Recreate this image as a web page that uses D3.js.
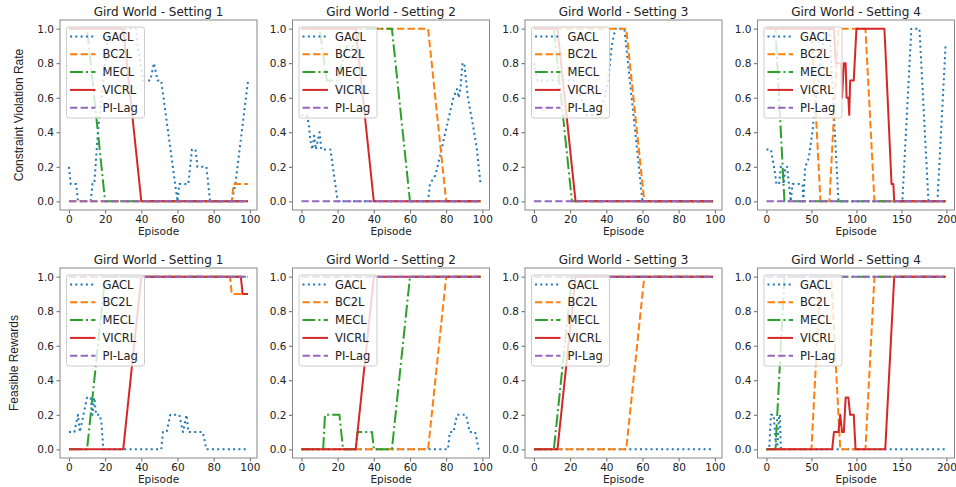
<!DOCTYPE html>
<html>
<head>
<meta charset="utf-8">
<script src="https://cdnjs.cloudflare.com/ajax/libs/d3/7.8.5/d3.min.js"></script>
<style>
body { margin: 0; background: #fff; }
text { font-family: "DejaVu Sans", sans-serif; fill: #222; }
</style>
</head>
<body>
<svg width="956" height="487"></svg>
<script>
// Names and tick labels
var methods = ["GACL", "BC2L", "MECL", "VICRL", "PI-Lag"];
var titles = ["Gird World - Setting 1", "Gird World - Setting 2", "Gird World - Setting 3", "Gird World - Setting 4"];
var rowLabels = ["Constraint Violation Rate", "Feasible Rewards"];
var xTicks100 = [0, 20, 40, 60, 80, 100];
var xTicks200 = [0, 50, 100, 150, 200];
var yTicks = [0, 0.2, 0.4, 0.6, 0.8, 1.0];

// Constraint violation rate -- [episode, value] break points
var cvr1Gacl = [[0,0.2],[1,0.1],[4,0.1],[5,0],[12,0],[13,0.1],[14,0.1],[16,0.4],[18,0.6],[20,0.8],[22,1],[37,1],[38,0.9],[41,0.7],[45,0.7],[47,0.8],[49,0.7],[51,0.7],[60,0],[61,0.1],[66,0.1],[68,0.3],[70,0.3],[71,0.2],[76,0.2],[78,0],[90,0],[92,0.1],[99,0.7]];
var cvr1Bc2l = [[0,0],[90,0],[91,0.1],[99,0.1]];
var cvr1Mecl = [[0,1],[10,1],[20,0],[99,0]];
var cvr1Vicrl = [[0,1],[30,1],[40,0],[99,0]];
var cvr1Pilag = [[0,0],[99,0]];

var cvr2Gacl = [[0,0.5],[3,0.5],[4,0.45],[5,0.35],[6,0.3],[7,0.38],[8,0.3],[9,0.35],[10,0.4],[11,0.3],[16,0.3],[20,0],[70,0],[71,0.1],[74,0.15],[77,0.28],[80,0.42],[84,0.6],[86,0.65],[87,0.6],[88,0.67],[89,0.8],[90,0.8],[92,0.6],[95,0.43],[97,0.3],[99,0.1]];
var cvr2Bc2l = [[0,1],[70,1],[80,0],[99,0]];
var cvr2Mecl = [[0,1],[10,1],[14,0.7],[20,0.7],[25,0.9],[30,0.9],[33,1],[50,1],[60,0],[99,0]];
var cvr2Vicrl = [[0,1],[30,1],[40,0],[99,0]];
var cvr2Pilag = [[0,0],[99,0]];

var cvr3Gacl = [[0,0.8],[2,0.7],[22,0.7],[26,0.6],[29,0.5],[36,0.5],[39,0.6],[41,0.7],[43,0.9],[45,1],[50,1],[60,0],[99,0]];
var cvr3Bc2l = [[0,1],[51,1],[61,0],[99,0]];
var cvr3Mecl = [[0,1],[11,1],[21,0],[99,0]];
var cvr3Vicrl = [[0,1],[13,1],[23,0],[99,0]];
var cvr3Pilag = [[0,0],[99,0]];

var cvr4Gacl = [[0,0.3],[5,0.3],[7,0.24],[9,0.18],[11,0.1],[14,0.1],[16,0.2],[18,0.18],[19,0.1],[21,0.2],[23,0.2],[25,0.1],[27,0],[29,0.1],[40,0.1],[41,0],[43,0.2],[47,0.25],[51,0.4],[55,0.6],[60,0.8],[65,1],[70,1],[80,0],[151,0],[161,1],[170,1],[180,0],[190,0],[199,0.9]];
var cvr4Bc2l = [[0,1],[50,1],[60,0],[70,0],[80,1],[110,1],[120,0],[199,0]];
var cvr4Mecl = [[0,1],[10,1],[20,0],[199,0]];
var cvr4Vicrl = [[0,1],[75,1],[77,0.8],[83,0.8],[84,0.6],[86,0.8],[88,0.8],[89,0.6],[91,0.6],[92,0.5],[93,0.7],[97,0.7],[99,0.9],[100,1],[131,1],[132,0.9],[139,0.1],[141,0.1],[142,0],[199,0]];
var cvr4Pilag = [[0,0],[199,0]];

// Feasible rewards
var fr1Gacl = [[0,0.1],[3,0.1],[5,0.2],[6,0.1],[7,0.15],[8,0.2],[10,0.3],[12,0.3],[13,0.2],[14,0.3],[15,0.2],[17,0.2],[18,0.15],[19,0],[51,0],[52,0.1],[54,0.1],[56,0.2],[61,0.2],[63,0.1],[65,0.2],[66,0.1],[74,0.1],[76,0],[99,0]];
var fr1Bc2l = [[0,1],[89,1],[90,0.9],[99,0.9]];
var fr1Mecl = [[0,0],[10,0],[20,1],[99,1]];
var fr1Vicrl = [[0,0],[30,0],[40,1],[95,1],[96,0.9],[99,0.9]];
var fr1Pilag = [[0,1],[99,1]];

var fr2Gacl = [[0,0],[81,0],[82,0.1],[84,0.1],[86,0.2],[91,0.2],[93,0.1],[96,0.1],[98,0],[99,0]];
var fr2Bc2l = [[0,0],[70,0],[80,1],[99,1]];
var fr2Mecl = [[0,0],[12,0],[13,0.2],[21,0.2],[23,0],[30,0],[31,0.1],[39,0.1],[40,0],[50,0],[60,1],[99,1]];
var fr2Vicrl = [[0,0],[30,0],[40,1],[99,1]];
var fr2Pilag = [[0,1],[99,1]];

var fr3Gacl = [[0,0],[99,0]];
var fr3Bc2l = [[0,0],[51,0],[61,1],[99,1]];
var fr3Mecl = [[0,0],[11,0],[21,1],[99,1]];
var fr3Vicrl = [[0,0],[13,0],[23,1],[99,1]];
var fr3Pilag = [[0,1],[99,1]];

var fr4Gacl = [[0,0],[3,0],[5,0.2],[8,0.2],[11,0],[12,0],[14,0.2],[15,0.2],[16,0],[199,0]];
var fr4Bc2l = [[0,0],[50,0],[60,1],[72,1],[82,0],[110,0],[120,1],[199,1]];
var fr4Mecl = [[0,0],[10,0],[20,1],[199,1]];
var fr4Vicrl = [[0,0],[73,0],[75,0.1],[80,0.1],[82,0.2],[84,0.1],[86,0.1],[88,0.3],[91,0.3],[93,0.2],[97,0.2],[99,0],[132,0],[142,1],[199,1]];
var fr4Pilag = [[0,1],[199,1]];

// Line looks (matplotlib tab10 + default dash patterns)
var colors = ["#1f77b4", "#ff7f0e", "#2ca02c", "#d62728", "#9467bd"];
var dashes = ["2,3.3", "7.4,3.2", "12.8,3.2,2,3.2", null, "7.4,3.2"];

var svg = d3.select("svg");

// Panel layout
var colLeft = [60, 292.5, 525, 757.5];
var rowTop = [20, 268];
var panelW = 197, panelH = 190;

var panels = [
  {row: 0, col: 0, xMax: 99, ticks: xTicks100, series: [cvr1Gacl, cvr1Bc2l, cvr1Mecl, cvr1Vicrl, cvr1Pilag]},
  {row: 0, col: 1, xMax: 99, ticks: xTicks100, series: [cvr2Gacl, cvr2Bc2l, cvr2Mecl, cvr2Vicrl, cvr2Pilag]},
  {row: 0, col: 2, xMax: 99, ticks: xTicks100, series: [cvr3Gacl, cvr3Bc2l, cvr3Mecl, cvr3Vicrl, cvr3Pilag]},
  {row: 0, col: 3, xMax: 199, ticks: xTicks200, series: [cvr4Gacl, cvr4Bc2l, cvr4Mecl, cvr4Vicrl, cvr4Pilag]},
  {row: 1, col: 0, xMax: 99, ticks: xTicks100, series: [fr1Gacl, fr1Bc2l, fr1Mecl, fr1Vicrl, fr1Pilag]},
  {row: 1, col: 1, xMax: 99, ticks: xTicks100, series: [fr2Gacl, fr2Bc2l, fr2Mecl, fr2Vicrl, fr2Pilag]},
  {row: 1, col: 2, xMax: 99, ticks: xTicks100, series: [fr3Gacl, fr3Bc2l, fr3Mecl, fr3Vicrl, fr3Pilag]},
  {row: 1, col: 3, xMax: 199, ticks: xTicks200, series: [fr4Gacl, fr4Bc2l, fr4Mecl, fr4Vicrl, fr4Pilag]}
];

panels.forEach(drawPanel);

// Row labels on the left
rowLabels.forEach(function(lab, i) {
  var cy = rowTop[i] + panelH / 2;
  var cx = i == 0 ? 19 : 14;
  svg.append("text")
    .attr("transform", "translate(" + cx + "," + cy + ") rotate(-90)")
    .attr("text-anchor", "middle")
    .attr("dy", "0.35em")
    .style("font-family", "'Liberation Sans', Arial, sans-serif")
    .style("font-size", "12px")
    .text(lab);
});

function drawPanel(p, idx) {
  var x0 = colLeft[p.col], y0 = rowTop[p.row];
  var x = d3.scaleLinear()
    .domain([-0.05 * p.xMax, 1.05 * p.xMax])
    .range([x0, x0 + panelW]);
  var y = d3.scaleLinear()
    .domain([-0.05, 1.05])
    .range([y0 + panelH, y0]);

  var g = svg.append("g");

  // clip lines to the axes box
  var clipId = "clip" + idx;
  g.append("clipPath").attr("id", clipId)
    .append("rect")
    .attr("x", x0).attr("y", y0)
    .attr("width", panelW).attr("height", panelH);

  var line = d3.line()
    .x(function(d) { return x(d[0]); })
    .y(function(d) { return y(d[1]); });

  var lines = g.append("g").attr("clip-path", "url(#" + clipId + ")");
  p.series.forEach(function(s, i) {
    lines.append("path")
      .attr("d", line(s))
      .attr("fill", "none")
      .attr("stroke", colors[i])
      .attr("stroke-width", 2)
      .attr("stroke-dasharray", dashes[i])
      .attr("stroke-linejoin", "round");
  });

  // axes
  var xAxis = g.append("g")
    .attr("transform", "translate(0," + (y0 + panelH) + ")")
    .call(d3.axisBottom(x).tickValues(p.ticks).tickSize(3.5).tickPadding(2.5).tickFormat(d3.format("d")));
  var yAxis = g.append("g")
    .attr("transform", "translate(" + x0 + ",0)")
    .call(d3.axisLeft(y).tickValues(yTicks).tickSize(3.5).tickPadding(2.5).tickFormat(d3.format(".1f")));
  [xAxis, yAxis].forEach(function(a) {
    a.select(".domain").remove();
    a.selectAll("line").attr("stroke", "#666");
    a.selectAll("text")
      .style("font-family", "'DejaVu Sans', sans-serif")
      .style("font-size", "10.5px")
      .attr("fill", "#222");
  });

  g.append("rect")
    .attr("x", x0).attr("y", y0)
    .attr("width", panelW).attr("height", panelH)
    .attr("fill", "none")
    .attr("stroke", "#888")
    .attr("stroke-width", 1);

  // title and x label
  g.append("text")
    .attr("x", x0 + panelW / 2)
    .attr("y", y0 - 4.5)
    .attr("text-anchor", "middle")
    .style("font-size", "12px")
    .text(titles[p.col]);

  g.append("text")
    .attr("x", x0 + panelW / 2)
    .attr("y", y0 + panelH + 25)
    .attr("text-anchor", "middle")
    .style("font-size", "10.5px")
    .text("Episode");

  // legend, upper left, half transparent like matplotlib
  var lx = x0 + 6.5, ly = y0 + 7;
  var leg = g.append("g");
  leg.append("rect")
    .attr("x", lx).attr("y", ly)
    .attr("width", 78).attr("height", 91)
    .attr("rx", 2.5)
    .attr("fill", "white").attr("fill-opacity", 0.8)
    .attr("stroke", "#cccccc").attr("stroke-width", 1);
  methods.forEach(function(m, i) {
    var cy = ly + 9.5 + i * 17.8;
    leg.append("line")
      .attr("x1", lx + 3.5).attr("x2", lx + 29)
      .attr("y1", cy).attr("y2", cy)
      .attr("stroke", colors[i])
      .attr("stroke-width", 2)
      .attr("stroke-dasharray", dashes[i]);
    leg.append("text")
      .attr("x", lx + 36)
      .attr("y", cy)
      .attr("dy", "0.36em")
      .style("font-size", "11.5px")
      .text(m);
  });
}
</script>
</body>
</html>
